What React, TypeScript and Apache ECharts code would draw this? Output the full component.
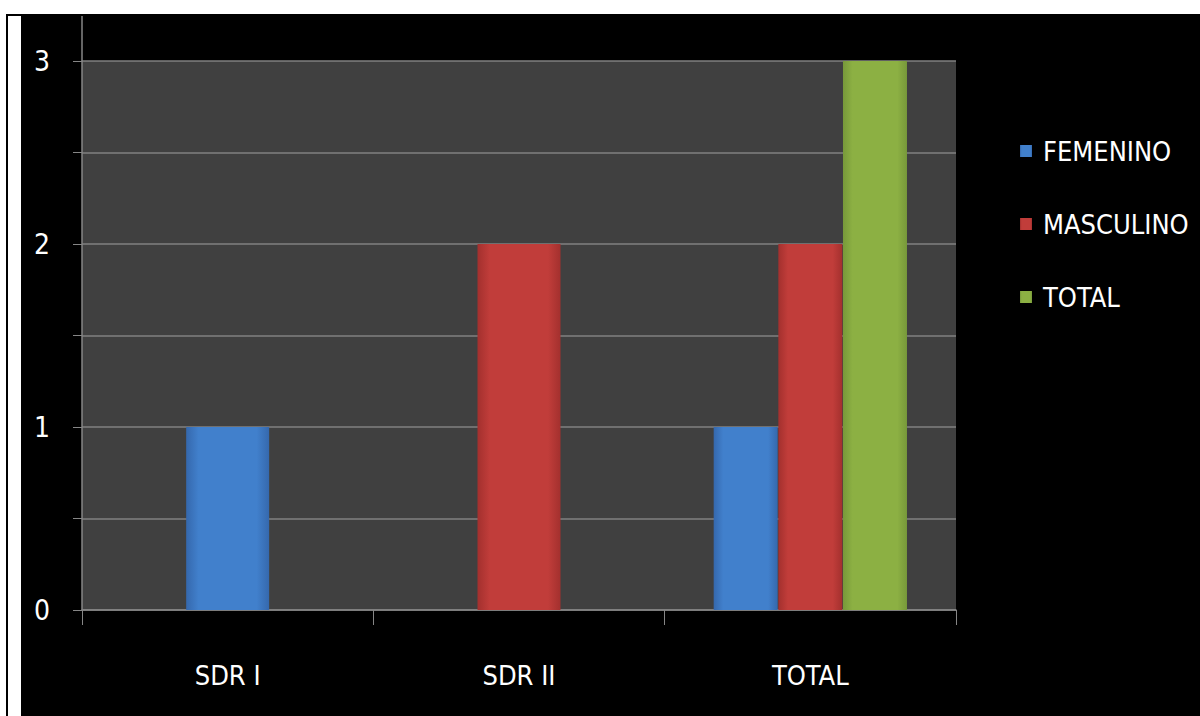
import React, { useEffect, useRef } from "react";
import * as echarts from "echarts";

const categories = ["SDR I", "SDR II", "TOTAL"];
// single-bar groups (SDR I, SDR II)
const femeninoSingle = [1, "-", "-"];
const masculinoSingle = ["-", 2, "-"];
// grouped bars for TOTAL
const femeninoTotal = ["-", "-", 1];
const masculinoTotal = ["-", "-", 2];
const totalValues = ["-", "-", 3];
const legendNames = ["FEMENINO", "MASCULINO", "TOTAL"];

const FONT = "'DejaVu Sans Condensed', 'Liberation Sans Narrow', 'Noto Sans', sans-serif";

function grad(edge: string, mid: string) {
  return new echarts.graphic.LinearGradient(0, 0, 1, 0, [
    { offset: 0, color: edge },
    { offset: 0.15, color: mid },
    { offset: 0.85, color: mid },
    { offset: 1, color: edge },
  ]);
}

const BLUE = () => grad("#3568ad", "#4180cc");
const RED = () => grad("#a3302e", "#c13d3a");
const GREEN = () => grad("#77993a", "#8cb043");

export default function App() {
  const ref = useRef<HTMLDivElement>(null);
  useEffect(() => {
    if (!ref.current) return;
    const chart = echarts.init(ref.current, null, { renderer: "svg" });
    const catAxisBase = {
      type: "category" as const,
      data: categories,
    };
    chart.setOption({
      animation: false,
      backgroundColor: "#000000",
      textStyle: { fontFamily: FONT },
      graphic: [
        { type: "rect", shape: { x: 0, y: 0, width: 1200, height: 14 }, style: { fill: "#ffffff" }, z: 0 },
        { type: "rect", shape: { x: 0, y: 0, width: 6, height: 716 }, style: { fill: "#ffffff" }, z: 0 },
        { type: "rect", shape: { x: 8, y: 16, width: 13, height: 700 }, style: { fill: "#ffffff" }, z: 0 },
        { type: "line", shape: { x1: 82, y1: 16, x2: 82, y2: 61 }, style: { stroke: "#868686", lineWidth: 1.5 }, z: 10 },
      ],
      grid: {
        left: 82,
        right: 244,
        top: 61,
        bottom: 106,
        show: true,
        backgroundColor: "#404040",
        borderWidth: 0,
      },
      legend: {
        data: legendNames,
        orient: "vertical",
        left: 1015,
        top: 130,
        itemWidth: 12,
        itemHeight: 12,
        itemGap: 41,
        icon: "rect",
        textStyle: {
          color: "#ffffff",
          fontSize: 27,
          fontFamily: FONT,
          lineHeight: 32,
          padding: [0, 0, 0, 6],
        },
      },
      xAxis: [
        {
          ...catAxisBase,
          axisLine: { lineStyle: { color: "#868686", width: 1.5 } },
          axisTick: { show: true, length: 15, lineStyle: { color: "#868686" } },
          axisLabel: { color: "#ffffff", fontSize: 27, fontFamily: FONT, margin: 52 },
        },
        {
          ...catAxisBase,
          show: false,
        },
      ],
      yAxis: {
        type: "value",
        min: 0,
        max: 3,
        interval: 0.5,
        axisLine: { show: true, lineStyle: { color: "#868686", width: 1.5 } },
        axisTick: { show: true, length: 9, lineStyle: { color: "#868686" } },
        splitLine: { show: true, lineStyle: { color: "#808080", width: 1.5 } },
        axisLabel: {
          color: "#ffffff",
          fontSize: 28,
          fontFamily: FONT,
          margin: 32,
          formatter: (v: number) => (Number.isInteger(v) ? String(v) : ""),
        },
      },
      series: [
        {
          name: "FEMENINO",
          type: "bar",
          xAxisIndex: 0,
          stack: "single",
          barWidth: 83,
          data: femeninoSingle,
          itemStyle: { color: BLUE() },
        },
        {
          name: "MASCULINO",
          type: "bar",
          xAxisIndex: 0,
          stack: "single",
          barWidth: 83,
          data: masculinoSingle,
          itemStyle: { color: RED() },
        },
        {
          name: "FEMENINO",
          type: "bar",
          xAxisIndex: 1,
          barWidth: 64,
          barGap: "1%",
          data: femeninoTotal,
          itemStyle: { color: BLUE() },
        },
        {
          name: "MASCULINO",
          type: "bar",
          xAxisIndex: 1,
          barWidth: 64,
          barGap: "1%",
          data: masculinoTotal,
          itemStyle: { color: RED() },
        },
        {
          name: "TOTAL",
          type: "bar",
          xAxisIndex: 1,
          barWidth: 64,
          barGap: "1%",
          data: totalValues,
          itemStyle: { color: GREEN() },
        },
      ],
    });
    return () => chart.dispose();
  }, []);
  return (
    <div
      ref={ref}
      style={{ position: "fixed", left: 0, top: 0, width: 1200, height: 716 }}
    />
  );
}
